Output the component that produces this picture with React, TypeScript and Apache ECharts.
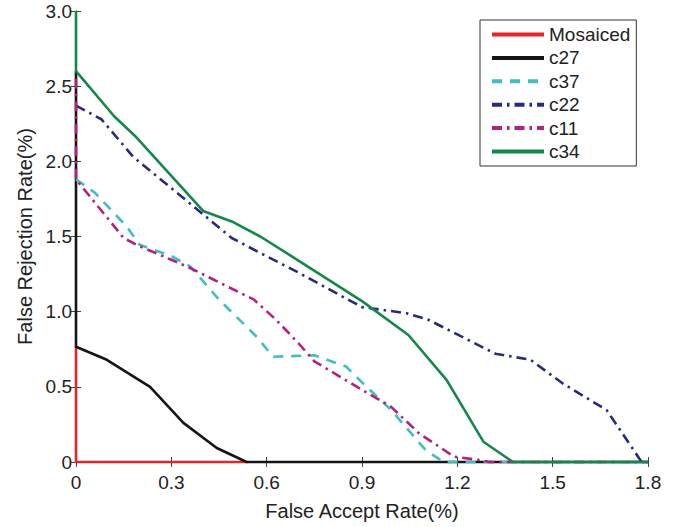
import React, { useEffect, useRef } from "react";
import * as echarts from "echarts";

const seriesNames = ["Mosaiced", "c27", "c37", "c22", "c11", "c34"];
const xTicks = [0, 0.3, 0.6, 0.9, 1.2, 1.5, 1.8];
const yTicks = [0, 0.5, 1.0, 1.5, 2.0, 2.5, 3.0];

const mosaiced: [number, number][] = [[0, 0.77], [0, 0], [0.54, 0]];
const c27: [number, number][] = [
  [0, 2.6], [0, 0.767], [0.097, 0.68], [0.233, 0.5], [0.338, 0.26], [0.443, 0.093], [0.537, 0], [1.8, 0],
];
const c37: [number, number][] = [
  [0, 1.88], [0.06, 1.79], [0.16, 1.565], [0.2, 1.445], [0.3, 1.37], [0.36, 1.3], [0.45, 1.08],
  [0.57, 0.83], [0.62, 0.7], [0.75, 0.71], [0.85, 0.635], [0.9, 0.53], [0.99, 0.35], [1.1, 0.08],
  [1.156, 0], [1.8, 0],
];
const c22: [number, number][] = [
  [0, 2.37], [0.08, 2.28], [0.18, 2.03], [0.39, 1.665], [0.49, 1.49], [0.58, 1.39], [0.7, 1.26],
  [0.9, 1.03], [1.04, 0.99], [1.11, 0.945], [1.32, 0.72], [1.43, 0.68], [1.53, 0.525], [1.67, 0.345],
  [1.78, 0],
];
const c11: [number, number][] = [
  [0, 2.55], [0, 1.88], [0.15, 1.49], [0.19, 1.445], [0.3, 1.345], [0.35, 1.3], [0.56, 1.08],
  [0.63, 0.945], [0.7, 0.79], [0.75, 0.67], [0.9, 0.48], [0.99, 0.37], [1.08, 0.19], [1.19, 0.035],
  [1.28, 0.01], [1.3, 0], [1.8, 0],
];
const c34: [number, number][] = [
  [0, 3.0], [0, 2.6], [0.12, 2.3], [0.19, 2.16], [0.4, 1.67], [0.49, 1.6], [0.58, 1.5], [0.7, 1.34],
  [0.9, 1.07], [1.046, 0.845], [1.166, 0.546], [1.282, 0.135], [1.375, 0], [1.8, 0],
];

const colors = ["#e1262c", "#151515", "#3fbfbf", "#262b80", "#b3207f", "#14874b"];

const FONT = "Liberation Sans, Arial, Helvetica, sans-serif";

export default function App() {
  const ref = useRef<HTMLDivElement>(null);
  useEffect(() => {
    if (!ref.current) return;
    const chart = echarts.init(ref.current, undefined, { renderer: "svg" });
    const fmt = (v: number) => (v === 0 ? "0" : v.toFixed(1));
    const datas = [mosaiced, c27, c37, c22, c11, c34];
    const dashes: any[] = ["solid", "solid", [10, 8], [10, 5, 2.5, 5], [10, 5, 2.5, 5], "solid"];
    const axisLine = { show: true, lineStyle: { color: "#444", width: 1 } };
    const tick = { show: true, inside: true, length: 5, lineStyle: { color: "#444" } };
    const option: any = {
      animation: false,
      backgroundColor: "#fff",
      grid: { left: 76, right: 30, top: 11, bottom: 65, containLabel: false },
      legend: {
        data: seriesNames,
        orient: "vertical",
        left: 480,
        top: 20,
        itemWidth: 52,
        itemHeight: 16,
        itemGap: 4.4,
        padding: [5, 6, 5, 10],
        borderColor: "#333",
        borderWidth: 1,
        backgroundColor: "#fff",
        itemStyle: { opacity: 0 },
        lineStyle: { width: 4 },
        textStyle: { fontFamily: FONT, fontSize: 19, color: "#222" },
      },
      xAxis: [
        {
          type: "value", min: 0, max: 1.8, interval: 0.3,
          axisLine, splitLine: { show: false }, axisTick: tick,
          axisLabel: { formatter: fmt, fontFamily: FONT, fontSize: 19, color: "#222", margin: 11,
            customValues: xTicks },
          name: "False Accept Rate(%)", nameLocation: "middle", nameGap: 39,
          nameTextStyle: { fontFamily: FONT, fontSize: 20, color: "#222" },
        },
        {
          type: "value", min: 0, max: 1.8, interval: 0.3, position: "top",
          axisLine, splitLine: { show: false }, axisTick: tick,
          axisLabel: { show: false },
        },
      ],
      yAxis: [
        {
          type: "value", min: 0, max: 3, interval: 0.5,
          axisLine, splitLine: { show: false }, axisTick: tick,
          axisLabel: { formatter: fmt, fontFamily: FONT, fontSize: 19, color: "#222", margin: 4,
            customValues: yTicks },
          name: "False Rejection Rate(%)", nameLocation: "middle", nameGap: 40, nameRotate: 90,
          nameTextStyle: { fontFamily: FONT, fontSize: 20, color: "#222" },
        },
        {
          type: "value", min: 0, max: 3, interval: 0.5, position: "right",
          axisLine, splitLine: { show: false }, axisTick: tick,
          axisLabel: { show: false },
        },
      ],
      series: seriesNames.map((name, i) => ({
        name,
        type: "line",
        xAxisIndex: 0,
        yAxisIndex: 0,
        data: datas[i],
        symbol: "none",
        clip: false,
        color: colors[i],
        lineStyle: { color: colors[i], width: 2.6, type: dashes[i] },
        z: 2 + i,
      })),
    };
    chart.setOption(option);
    return () => chart.dispose();
  }, []);
  return (
    <div
      ref={ref}
      style={{ position: "absolute", left: 0, top: 0, width: 678, height: 527 }}
    />
  );
}
